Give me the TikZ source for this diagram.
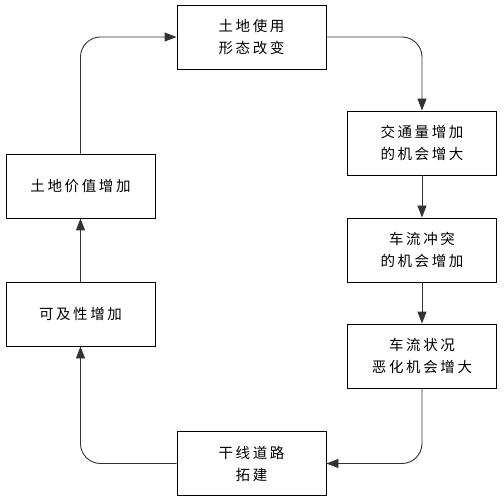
\documentclass[tikz,border=0pt]{standalone}
\usepackage{fontspec}
\newfontfamily\cjk[LetterSpace=18]{Noto Sans CJK SC}
\usetikzlibrary{arrows.meta}
\begin{document}
\begin{tikzpicture}[x=1pt,y=-1pt,
  box/.style={draw=black,line width=0.9pt,minimum width=149pt,minimum height=64pt,
    inner sep=0pt,align=center,font=\cjk\fontsize{14.5}{22}\selectfont},
  conn/.style={draw=black!80,line width=0.9pt,rounded corners=20pt,
    -{Triangle[length=12pt,width=9pt]}}]
\useasboundingbox (0,0) rectangle (504,500);
\node[box] (top) at (251.5,37) {土地使用\\形态改变};
\node[box] (r1) at (422,143) {交通量增加\\的机会增大};
\node[box] (r2) at (422,250) {车流冲突\\的机会增加};
\node[box] (r3) at (422,356) {车流状况\\恶化机会增大};
\node[box] (bot) at (251.5,463.5) {干线道路\\拓建};
\node[box] (l2) at (80.5,314) {可及性增加};
\node[box] (l1) at (80.5,186) {土地价值增加};
\draw[conn] (top.east) -| (r1.north);
\draw[conn] (r1) -- (r2);
\draw[conn] (r2) -- (r3);
\draw[conn] (r3.south) |- (bot.east);
\draw[conn] (bot.west) -| (l2.south);
\draw[conn] (l2) -- (l1);
\draw[conn] (l1.north) |- (top.west);
\end{tikzpicture}
\end{document}
